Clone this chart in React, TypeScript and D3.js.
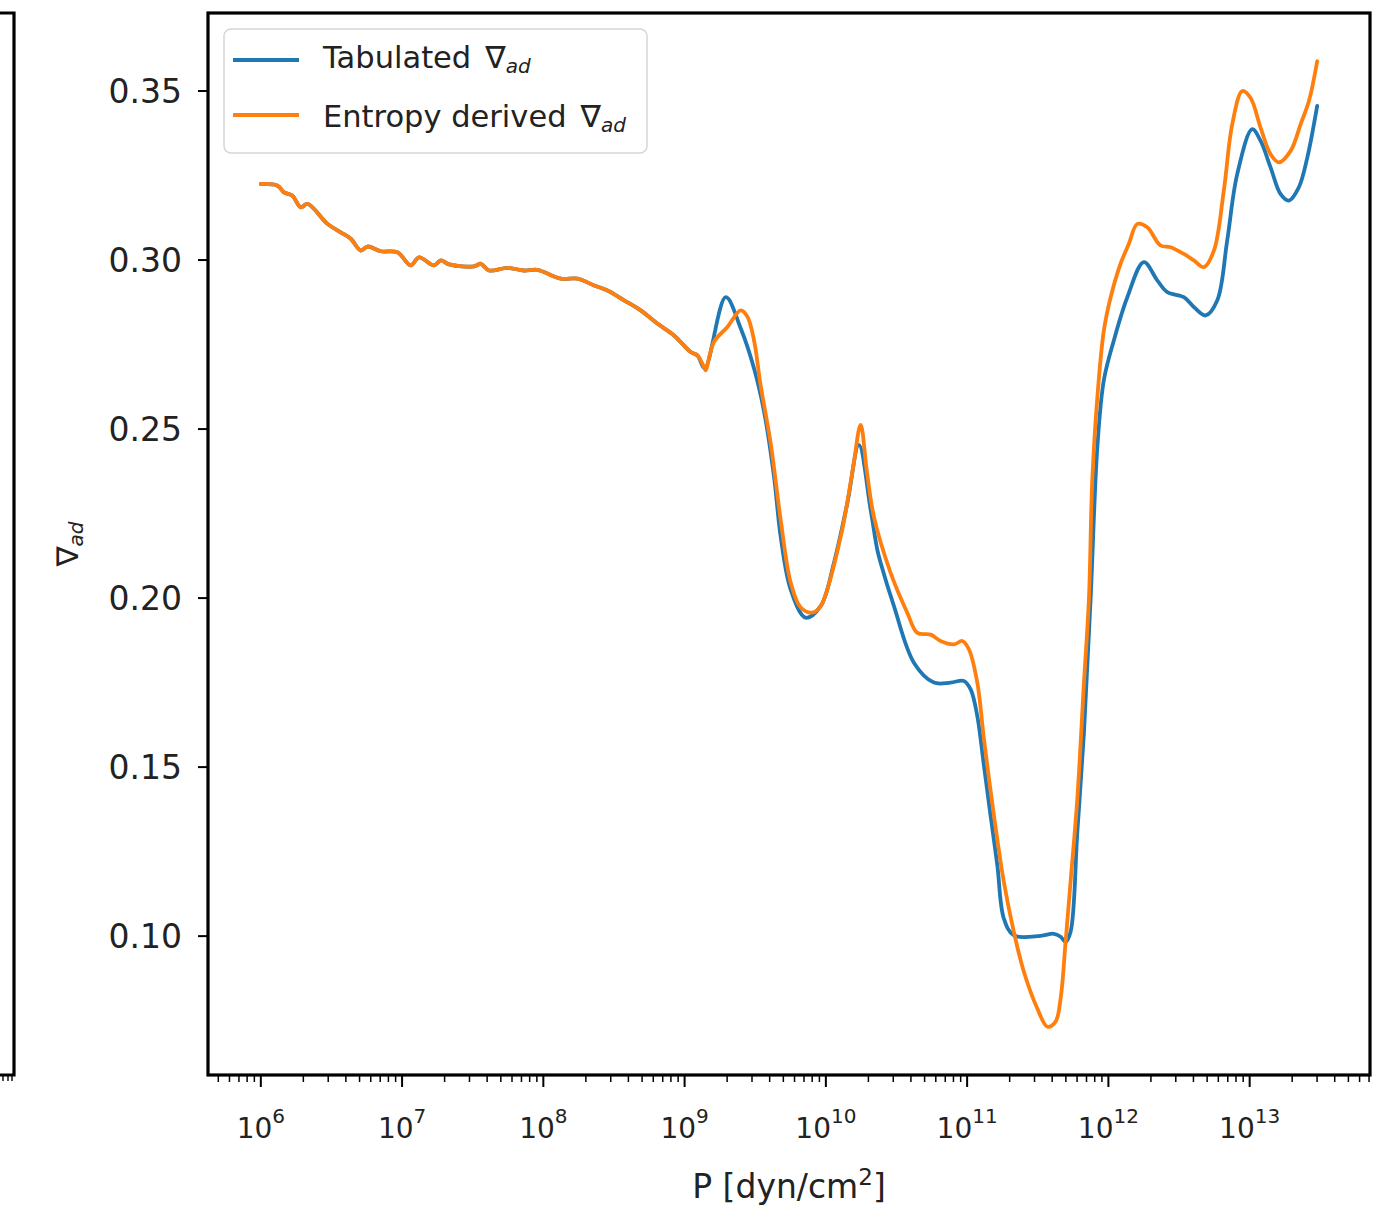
import React from "react";
import * as d3 from "d3";

// log10(P [dyn/cm^2]) and nabla_ad, shared low-pressure part (both curves coincide)
const sharedLogP = [6.0, 6.118, 6.165, 6.224, 6.283, 6.331, 6.472, 6.566, 6.637, 6.708, 6.755, 6.849, 6.967, 7.061, 7.12, 7.226, 7.274, 7.333, 7.51, 7.557, 7.616, 7.746, 7.863, 7.958, 8.123, 8.241, 8.359, 8.454, 8.571, 8.689, 8.807, 8.925, 9.043, 9.091, 9.142];
const sharedNabla = [0.3225, 0.322, 0.32, 0.319, 0.3156, 0.3166, 0.3107, 0.3082, 0.3063, 0.3028, 0.304, 0.3026, 0.3023, 0.2984, 0.3008, 0.2984, 0.2999, 0.2987, 0.2981, 0.2989, 0.2969, 0.2977, 0.2969, 0.2971, 0.2945, 0.2945, 0.2925, 0.291, 0.2881, 0.2851, 0.2812, 0.2777, 0.2728, 0.2718, 0.2679];

// Tabulated nabla_ad (high-pressure part)
const tabLogP = [9.291, 9.397, 9.491, 9.562, 9.633, 9.68, 9.751, 9.857, 9.963, 10.057, 10.152, 10.234, 10.317, 10.364, 10.388, 10.482, 10.623, 10.765, 10.883, 10.977, 11.025, 11.072, 11.119, 11.166, 11.214, 11.26, 11.331, 11.52, 11.614, 11.662, 11.697, 11.732, 11.78, 11.827, 11.874, 11.922, 11.968, 12.039, 12.134, 12.251, 12.346, 12.417, 12.534, 12.605, 12.688, 12.771, 12.841, 12.912, 13.018, 13.077, 13.148, 13.219, 13.278, 13.348, 13.408, 13.478];
const tabNabla = [0.289, 0.2798, 0.268, 0.2553, 0.2359, 0.2182, 0.2025, 0.1942, 0.1976, 0.2104, 0.2281, 0.2453, 0.2261, 0.2143, 0.2104, 0.1976, 0.1809, 0.175, 0.175, 0.1755, 0.173, 0.1651, 0.1504, 0.1356, 0.1209, 0.1052, 0.1002, 0.1001, 0.1007, 0.0998, 0.0983, 0.1012, 0.1307, 0.1602, 0.1996, 0.2448, 0.2645, 0.2763, 0.289, 0.2994, 0.294, 0.2905, 0.289, 0.2861, 0.2836, 0.2881, 0.3058, 0.3254, 0.3387, 0.3353, 0.3274, 0.3195, 0.3176, 0.3215, 0.3303, 0.3456];

// Entropy derived nabla_ad (high-pressure part)
const entLogP = [9.149, 9.208, 9.303, 9.397, 9.444, 9.491, 9.538, 9.609, 9.68, 9.751, 9.822, 9.904, 9.963, 10.105, 10.19, 10.246, 10.289, 10.34, 10.459, 10.577, 10.648, 10.742, 10.812, 10.907, 10.966, 11.013, 11.072, 11.119, 11.19, 11.26, 11.331, 11.402, 11.497, 11.568, 11.626, 11.662, 11.697, 11.732, 11.78, 11.827, 11.862, 11.886, 11.922, 11.968, 12.016, 12.086, 12.145, 12.205, 12.275, 12.369, 12.44, 12.534, 12.605, 12.676, 12.747, 12.817, 12.877, 12.948, 13.006, 13.077, 13.148, 13.207, 13.29, 13.361, 13.42, 13.478];
const entNabla = [0.2674, 0.2758, 0.2802, 0.2851, 0.2833, 0.2763, 0.263, 0.2459, 0.2232, 0.2046, 0.1972, 0.1957, 0.1976, 0.2182, 0.2379, 0.2512, 0.2379, 0.2241, 0.2074, 0.1956, 0.1897, 0.1892, 0.1873, 0.1863, 0.1873, 0.1848, 0.175, 0.1583, 0.1356, 0.116, 0.1012, 0.0894, 0.0786, 0.0732, 0.0747, 0.0816, 0.0983, 0.116, 0.1406, 0.175, 0.1996, 0.235, 0.2595, 0.2792, 0.289, 0.2989, 0.3048, 0.3107, 0.3097, 0.3043, 0.3038, 0.3018, 0.2999, 0.2979, 0.3028, 0.3205, 0.3402, 0.35, 0.348, 0.3392, 0.3313, 0.3289, 0.3323, 0.3402, 0.3471, 0.3588];

const xTickExponents = [6, 7, 8, 9, 10, 11, 12, 13];
const yTickValues = [0.1, 0.15, 0.2, 0.25, 0.3, 0.35];
const legendLabels = ["Tabulated", "Entropy derived"];
const seriesColors = ["#1f77b4", "#ff7f0e"];

const FONT = "DejaVu Sans, Verdana, sans-serif";

export default function App() {
  const W = 1382, H = 1207;
  const L = 208, R = 1370, T = 13, B = 1075;

  const tab = sharedLogP.map((l, i) => [l, sharedNabla[i]]).concat(tabLogP.map((l, i) => [l, tabNabla[i]]));
  const ent = sharedLogP.map((l, i) => [l, sharedNabla[i]]).concat(entLogP.map((l, i) => [l, entNabla[i]]));
  const all = tab.concat(ent);

  const [lmin, lmax] = d3.extent(all, (d) => d[0]) as [number, number];
  const [vmin, vmax] = d3.extent(all, (d) => d[1]) as [number, number];
  const lm = (lmax - lmin) * 0.05;
  const vm = (vmax - vmin) * 0.05;

  const x = d3.scaleLog().domain([Math.pow(10, lmin - lm), Math.pow(10, lmax + lm)]).range([L, R]);
  const y = d3.scaleLinear().domain([vmin - vm, vmax + vm]).range([B, T]);

  const line = d3
    .line<number[]>()
    .x((d) => x(Math.pow(10, d[0])))
    .y((d) => y(d[1]))
    .curve(d3.curveCatmullRom.alpha(0.5));

  const [d0, d1] = x.domain();
  const minor: number[] = [];
  for (let e = Math.floor(Math.log10(d0)); e <= Math.ceil(Math.log10(d1)); e++) {
    for (let m = 2; m <= 9; m++) {
      const v = m * Math.pow(10, e);
      if (v >= d0 && v <= d1) minor.push(v);
    }
  }

  return (
    <svg width={W} height={H} style={{ position: "absolute", left: 0, top: 0, background: "#fff" }} fontFamily={FONT}>
      <rect x={0} y={0} width={W} height={H} fill="#fff" />
      {/* partial neighbouring panel at the left edge */}
      <path d={`M0,${T} H14 V${B} H0`} fill="none" stroke="#000" strokeWidth={3.2} />
      {[3, 8, 12].map((px) => (
        <line key={px} x1={px} x2={px} y1={B} y2={B + 6} stroke="#000" strokeWidth={1.4} />
      ))}

      {/* data lines */}
      <path d={line(tab) || ""} fill="none" stroke={seriesColors[0]} strokeWidth={3.8} strokeLinejoin="round" strokeLinecap="round" />
      <path d={line(ent) || ""} fill="none" stroke={seriesColors[1]} strokeWidth={3.8} strokeLinejoin="round" strokeLinecap="round" />

      {/* x minor ticks */}
      {minor.map((v) => (
        <line key={"m" + v} x1={x(v)} x2={x(v)} y1={B} y2={B + 7} stroke="#000" strokeWidth={1.5} />
      ))}
      {/* x major ticks and labels */}
      {xTickExponents.map((e) => {
        const px = x(Math.pow(10, e));
        return (
          <g key={"x" + e}>
            <line x1={px} x2={px} y1={B} y2={B + 12} stroke="#000" strokeWidth={2} />
            <text x={px} y={1138} textAnchor="middle" fontSize={28} fill="#222">
              10
              <tspan fontSize={20} dy={-15}>{e}</tspan>
            </text>
          </g>
        );
      })}
      {/* y ticks */}
      {yTickValues.map((v) => (
        <g key={"y" + v}>
          <line x1={L - 10} x2={L} y1={y(v)} y2={y(v)} stroke="#000" strokeWidth={2} />
          <text x={182} y={y(v)} dy="0.36em" textAnchor="end" fontSize={33} fill="#222">
            {v.toFixed(2)}
          </text>
        </g>
      ))}

      {/* frame */}
      <rect x={L} y={T} width={R - L} height={B - T} fill="none" stroke="#000" strokeWidth={3.2} />

      {/* axis labels */}
      <text x={(L + R) / 2} y={1198} textAnchor="middle" fontSize={33} fill="#222">
        P [dyn/cm
        <tspan fontSize={23} dy={-13}>2</tspan>
        <tspan dy={13}>]</tspan>
      </text>
      <text transform={`translate(78,${(T + B) / 2}) rotate(-90)`} textAnchor="middle" fontSize={30} fill="#222">
        ∇<tspan fontSize={20} fontStyle="italic" dy={5}>ad</tspan>
      </text>

      {/* legend */}
      <rect x={224} y={29} width={423} height={124} rx={7} fill="#fff" fillOpacity={0.8} stroke="#d6d6d6" strokeWidth={1.5} />
      {legendLabels.map((lab, i) => {
        const ly = 60 + i * 55;
        return (
          <g key={lab}>
            <line x1={233} x2={299} y1={ly} y2={ly} stroke={seriesColors[i]} strokeWidth={3.8} />
            <text x={323} y={ly + 8 + i * 4} fontSize={30.5} fill="#222">
              {lab}
              <tspan dx={14}>∇</tspan>
              <tspan fontSize={20} fontStyle="italic" dy={5}>ad</tspan>
            </text>
          </g>
        );
      })}
    </svg>
  );
}
